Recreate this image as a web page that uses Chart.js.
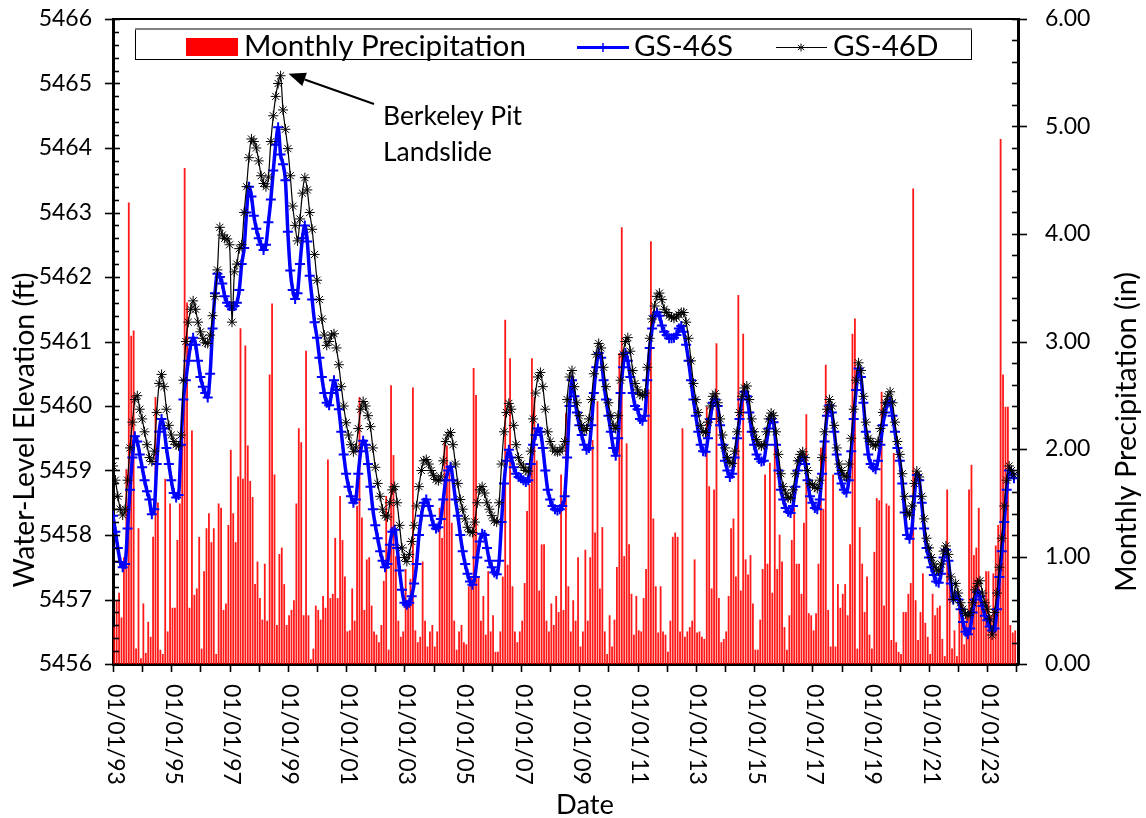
<!DOCTYPE html>
<html>
<head>
<meta charset="utf-8">
<script src="https://cdn.jsdelivr.net/npm/chart.js@4.4.1/dist/chart.umd.min.js"></script>
<style>
html,body{margin:0;padding:0;background:#fff;}
#wrap{width:1146px;height:818px;}
canvas{display:block;}
</style>
</head>
<body>
<div id="wrap"><canvas id="c" width="1146" height="818"></canvas></div>
<script>
// ---------------- DATA ----------------
const firstYear = 1993;
const lastYear = 2023;

// Monthly precipitation (in), Jan..Dec for each year
const precipitation = [
/*1993*/ 0.34,0.59,0.66,0.43,0.99,1.81,4.29,3.05,3.10,0.14,1.26,0.05,
/*1994*/ 0.56,0.10,0.39,0.25,1.18,2.48,1.50,0.13,0.09,1.72,0.30,1.49,
/*1995*/ 0.52,0.52,1.15,1.49,2.17,4.61,3.36,0.52,2.17,0.64,0.70,1.18,
/*1996*/ 0.14,0.86,1.26,1.40,1.13,1.26,0.09,1.49,1.45,0.50,0.56,1.29,
/*1997*/ 1.99,1.40,1.13,1.74,3.12,1.72,2.96,2.03,1.70,1.55,0.74,0.95,
/*1998*/ 0.61,0.41,0.93,0.40,2.69,3.35,1.76,0.36,1.02,1.08,0.74,0.36,
/*1999*/ 0.45,0.50,0.59,1.49,2.19,2.06,0.45,2.91,0.45,0.04,0.14,0.54,
/*2000*/ 0.50,0.41,0.63,0.52,1.90,0.61,0.65,1.17,0.61,1.56,1.15,0.81,
/*2001*/ 0.30,0.31,0.70,0.40,1.47,2.48,1.36,0.50,0.97,0.99,0.54,0.30,
/*2002*/ 0.27,0.20,0.36,0.77,1.56,0.13,2.59,1.94,1.00,0.40,0.25,0.30,
/*2003*/ 0.88,0.59,0.79,2.57,0.31,0.20,0.25,0.95,0.40,0.16,0.30,0.36,
/*2004*/ 0.16,0.30,1.45,1.17,2.06,2.03,1.78,1.31,0.40,0.13,0.30,0.36,
/*2005*/ 0.20,0.18,0.72,0.81,2.75,2.50,0.81,0.40,0.63,0.27,0.86,0.30,
/*2006*/ 0.45,0.11,0.11,0.30,0.81,3.20,0.92,2.84,0.72,0.30,0.20,0.30,
/*2007*/ 0.40,0.75,1.42,1.67,2.84,2.48,1.89,0.68,1.11,1.11,0.40,0.30,
/*2008*/ 0.56,0.36,0.63,0.48,1.76,0.50,2.33,0.72,0.30,0.59,0.40,0.99,
/*2009*/ 0.16,0.30,1.06,0.40,0.99,2.08,1.22,2.44,0.70,1.27,0.30,0.09,
/*2010*/ 0.45,0.16,0.41,0.90,2.89,4.06,1.00,2.05,1.11,0.65,0.27,0.63,
/*2011*/ 0.31,0.30,0.61,0.88,2.55,3.93,1.35,0.72,0.29,0.72,0.30,0.27,
/*2012*/ 0.11,0.40,1.18,1.22,1.18,0.30,2.19,0.25,0.30,0.34,0.40,0.97,
/*2013*/ 0.29,0.30,0.25,0.23,2.39,1.65,0.70,1.62,2.98,0.61,0.20,0.23,
/*2014*/ 0.30,0.63,1.26,1.35,0.81,3.43,0.68,3.07,0.97,0.83,1.01,0.56,
/*2015*/ 0.13,0.13,0.41,0.88,1.76,0.93,1.87,0.66,2.23,0.88,1.20,0.95,
/*2016*/ 0.34,0.13,0.45,1.15,1.45,0.93,0.93,0.65,1.31,2.32,0.47,0.45,
/*2017*/ 0.31,0.47,0.93,2.01,1.44,2.78,0.50,0.16,1.76,0.16,0.74,0.52,
/*2018*/ 0.65,0.74,0.45,1.11,3.07,3.21,0.14,1.27,0.93,0.48,0.81,0.27,
/*2019*/ 0.14,1.04,1.54,1.52,2.53,0.54,1.49,1.47,0.22,1.96,0.20,0.11,
/*2020*/ 0.09,0.48,0.48,0.65,0.75,4.42,0.59,0.22,0.48,0.84,0.38,0.25,
/*2021*/ 0.09,0.65,0.45,0.52,0.54,0.23,0.07,1.62,0.84,0.14,0.31,0.07,
/*2022*/ 0.54,0.56,0.18,0.45,1.62,1.85,1.01,1.08,1.45,0.59,0.47,0.86,
/*2023*/ 0.86,0.45,0.84,1.10,1.29,4.88,2.69,2.39,2.39,0.36,0.29,0.31
];

// GS-46S water-level elevation (ft), monthly
const gs46S = [
/*1993*/ 5458.30,5458.05,5457.80,5457.58,5457.50,5457.55,5458.10,5458.70,5459.20,5459.53,5459.45,5459.25,
/*1994*/ 5459.05,5458.85,5458.68,5458.55,5458.32,5458.40,5459.10,5459.60,5459.80,5459.65,5459.35,5459.10,
/*1995*/ 5458.85,5458.65,5458.58,5458.62,5459.40,5460.10,5460.40,5460.70,5460.95,5461.06,5460.95,5460.70,
/*1996*/ 5460.45,5460.30,5460.20,5460.13,5460.50,5461.20,5461.75,5462.05,5462.00,5461.90,5461.70,5461.60,
/*1997*/ 5461.55,5461.50,5461.55,5461.60,5461.80,5462.20,5462.45,5463.00,5463.40,5463.25,5462.95,5462.75,
/*1998*/ 5462.60,5462.50,5462.42,5462.50,5462.85,5463.20,5463.65,5464.05,5464.32,5463.90,5463.75,5463.50,
/*1999*/ 5462.70,5462.10,5461.80,5461.66,5461.75,5462.20,5462.60,5462.80,5462.55,5462.02,5461.65,5461.30,
/*2000*/ 5461.06,5460.75,5460.45,5460.20,5460.05,5460.01,5460.20,5460.40,5460.25,5459.95,5459.60,5459.25,
/*2001*/ 5458.95,5458.75,5458.60,5458.50,5458.55,5458.95,5459.30,5459.46,5459.40,5459.10,5458.75,5458.40,
/*2002*/ 5458.15,5457.95,5457.75,5457.60,5457.50,5457.55,5457.85,5458.05,5458.08,5457.80,5457.45,5457.15,
/*2003*/ 5456.95,5456.92,5456.95,5457.05,5457.25,5457.55,5458.00,5458.30,5458.50,5458.55,5458.45,5458.30,
/*2004*/ 5458.15,5458.10,5458.12,5458.25,5458.55,5458.85,5459.00,5459.06,5458.85,5458.55,5458.30,5458.00,
/*2005*/ 5457.75,5457.55,5457.40,5457.28,5457.23,5457.35,5457.65,5457.90,5458.02,5458.00,5457.80,5457.60,
/*2006*/ 5457.50,5457.42,5457.39,5457.60,5458.20,5458.80,5459.15,5459.32,5459.20,5459.05,5458.95,5458.90,
/*2007*/ 5458.88,5458.85,5458.82,5458.85,5459.10,5459.40,5459.55,5459.65,5459.60,5459.35,5459.00,5458.70,
/*2008*/ 5458.55,5458.45,5458.40,5458.38,5458.40,5458.45,5458.60,5459.20,5460.00,5460.40,5460.15,5459.90,
/*2009*/ 5459.70,5459.55,5459.40,5459.32,5459.35,5459.70,5460.20,5460.60,5460.82,5460.75,5460.40,5460.10,
/*2010*/ 5459.85,5459.60,5459.35,5459.23,5459.50,5460.20,5460.60,5460.82,5460.70,5460.45,5460.20,5460.00,
/*2011*/ 5459.95,5459.80,5459.77,5459.85,5460.40,5460.90,5461.20,5461.40,5461.45,5461.40,5461.25,5461.15,
/*2012*/ 5461.10,5461.05,5461.05,5461.06,5461.10,5461.20,5461.24,5461.15,5460.95,5460.70,5460.40,5460.10,
/*2013*/ 5459.85,5459.60,5459.40,5459.30,5459.29,5459.50,5459.80,5460.05,5460.10,5460.00,5459.70,5459.40,
/*2014*/ 5459.15,5459.00,5458.90,5458.95,5459.20,5459.50,5459.80,5460.10,5460.22,5460.15,5459.90,5459.60,
/*2015*/ 5459.40,5459.25,5459.18,5459.14,5459.15,5459.40,5459.65,5459.80,5459.75,5459.40,5459.00,5458.70,
/*2016*/ 5458.55,5458.42,5458.36,5458.34,5458.45,5458.75,5459.00,5459.15,5459.21,5459.10,5458.85,5458.60,
/*2017*/ 5458.50,5458.42,5458.40,5458.55,5458.95,5459.45,5459.85,5460.01,5459.90,5459.60,5459.25,5458.95,
/*2018*/ 5458.80,5458.70,5458.66,5458.85,5459.30,5459.80,5460.25,5460.58,5460.45,5460.05,5459.60,5459.25,
/*2019*/ 5459.10,5459.05,5459.02,5459.15,5459.40,5459.70,5459.90,5460.05,5460.07,5459.85,5459.60,5459.35,
/*2020*/ 5459.15,5458.80,5458.35,5458.00,5457.94,5458.10,5458.60,5458.93,5458.85,5458.50,5458.10,5457.80,
/*2021*/ 5457.65,5457.50,5457.38,5457.28,5457.26,5457.40,5457.65,5457.77,5457.60,5457.25,5457.00,5457.05,
/*2022*/ 5457.00,5456.85,5456.65,5456.50,5456.46,5456.55,5456.80,5457.00,5457.12,5457.05,5456.90,5456.75,
/*2023*/ 5456.68,5456.58,5456.52,5456.55,5456.85,5457.35,5457.75,5458.20,5458.70,5459.00,5458.95,5458.88
];

// GS-46D water-level elevation (ft), monthly
const gs46D = [
/*1993*/ 5459.07,5458.85,5458.60,5458.40,5458.31,5458.40,5458.85,5459.35,5459.75,5460.10,5460.16,5459.95,
/*1994*/ 5459.80,5459.60,5459.40,5459.20,5459.14,5459.30,5459.90,5460.35,5460.49,5460.30,5459.95,5459.70,
/*1995*/ 5459.55,5459.45,5459.40,5459.38,5459.55,5460.40,5461.00,5461.30,5461.50,5461.63,5461.50,5461.30,
/*1996*/ 5461.15,5461.05,5460.98,5460.97,5461.10,5461.40,5461.70,5462.11,5462.77,5462.65,5462.60,5462.59,
/*1997*/ 5462.50,5461.30,5462.08,5462.20,5462.44,5462.50,5463.00,5463.40,5463.85,5464.14,5464.10,5464.00,
/*1998*/ 5463.80,5463.57,5463.45,5463.40,5463.55,5464.10,5464.50,5464.80,5465.00,5465.12,5464.59,5464.29,
/*1999*/ 5463.99,5463.57,5463.10,5462.80,5462.56,5462.90,5463.30,5463.54,5463.35,5463.00,5462.74,5462.35,
/*2000*/ 5461.95,5461.65,5461.35,5461.10,5460.94,5461.00,5461.10,5461.12,5460.90,5460.64,5460.30,5460.00,
/*2001*/ 5459.74,5459.55,5459.40,5459.29,5459.35,5459.65,5459.95,5460.07,5460.00,5459.85,5459.68,5459.35,
/*2002*/ 5459.05,5458.80,5458.60,5458.40,5458.30,5458.28,5458.50,5458.70,5458.75,5458.50,5458.15,5457.80,
/*2003*/ 5457.65,5457.59,5457.70,5457.90,5458.15,5458.45,5458.75,5459.00,5459.15,5459.17,5459.10,5459.00,
/*2004*/ 5458.92,5458.86,5458.84,5458.90,5459.15,5459.45,5459.55,5459.59,5459.40,5459.10,5458.80,5458.55,
/*2005*/ 5458.40,5458.25,5458.12,5458.05,5458.04,5458.20,5458.50,5458.70,5458.75,5458.65,5458.50,5458.40,
/*2006*/ 5458.30,5458.22,5458.20,5458.50,5459.10,5459.60,5459.90,5460.04,5459.95,5459.70,5459.40,5459.20,
/*2007*/ 5459.10,5459.05,5459.00,5458.99,5459.30,5459.80,5460.20,5460.45,5460.52,5460.30,5459.95,5459.60,
/*2008*/ 5459.45,5459.35,5459.30,5459.29,5459.30,5459.35,5459.45,5460.10,5460.45,5460.55,5460.30,5460.05,
/*2009*/ 5459.85,5459.70,5459.62,5459.65,5459.80,5460.10,5460.50,5460.80,5460.97,5460.90,5460.60,5460.30,
/*2010*/ 5460.05,5459.85,5459.70,5459.65,5459.85,5460.40,5460.80,5461.00,5461.06,5460.85,5460.55,5460.35,
/*2011*/ 5460.25,5460.18,5460.16,5460.20,5460.60,5461.05,5461.35,5461.55,5461.70,5461.75,5461.65,5461.50,
/*2012*/ 5461.45,5461.40,5461.38,5461.36,5461.38,5461.42,5461.45,5461.45,5461.30,5461.05,5460.70,5460.35,
/*2013*/ 5460.10,5459.90,5459.70,5459.60,5459.59,5459.75,5460.00,5460.15,5460.19,5460.05,5459.80,5459.55,
/*2014*/ 5459.35,5459.20,5459.12,5459.11,5459.30,5459.60,5459.90,5460.15,5460.28,5460.31,5460.10,5459.80,
/*2015*/ 5459.60,5459.48,5459.40,5459.38,5459.40,5459.60,5459.80,5459.89,5459.85,5459.60,5459.25,5458.95,
/*2016*/ 5458.75,5458.65,5458.58,5458.57,5458.70,5458.95,5459.15,5459.25,5459.29,5459.20,5459.00,5458.80,
/*2017*/ 5458.78,5458.74,5458.72,5458.85,5459.20,5459.60,5459.95,5460.10,5460.00,5459.70,5459.35,5459.10,
/*2018*/ 5459.00,5458.92,5458.90,5459.10,5459.50,5459.95,5460.40,5460.67,5460.55,5460.15,5459.75,5459.50,
/*2019*/ 5459.45,5459.40,5459.38,5459.45,5459.65,5459.90,5460.05,5460.15,5460.22,5460.05,5459.75,5459.45,
/*2020*/ 5459.25,5458.95,5458.60,5458.35,5458.31,5458.45,5458.80,5458.99,5458.90,5458.60,5458.25,5457.95,
/*2021*/ 5457.80,5457.65,5457.55,5457.47,5457.44,5457.55,5457.75,5457.83,5457.70,5457.35,5457.00,5457.25,
/*2022*/ 5457.10,5456.95,5456.85,5456.78,5456.75,5456.80,5456.95,5457.15,5457.25,5457.29,5457.10,5456.95,
/*2023*/ 5456.85,5456.70,5456.45,5456.80,5457.10,5457.50,5457.95,5458.45,5458.85,5459.07,5459.00,5458.93
];

// Axis tick labels (every two years) and yearly minor ticks
const dateTickYears  = [1993,1995,1997,1999,2001,2003,2005,2007,2009,2011,2013,2015,2017,2019,2021,2023];
const dateTickLabels = ['01/01/93','01/01/95','01/01/97','01/01/99','01/01/01','01/01/03','01/01/05','01/01/07',
                        '01/01/09','01/01/11','01/01/13','01/01/15','01/01/17','01/01/19','01/01/21','01/01/23'];
const minorTickYears = [];
for (let y = firstYear; y <= 2024; y++) minorTickYears.push(y);

const annotationText = ['Berkeley Pit', 'Landslide'];

// ---------------- BUILD ----------------
const monthLabels = [];
for (let y = firstYear; y <= lastYear; y++)
  for (let m = 1; m <= 12; m++) monthLabels.push(y + '-' + String(m).padStart(2, '0'));

function monthToYear(label, mid) {
  const p = label.split('-').map(Number);
  return p[0] + (p[1] - 1 + (mid ? 0.5 : 0)) / 12;
}

const precipPts = monthLabels.map((l, i) => ({x: monthToYear(l, true), y: precipitation[i]}));
const sPts = monthLabels.map((l, i) => ({x: monthToYear(l, false), y: gs46S[i]}));
const dPts = monthLabels.map((l, i) => ({x: monthToYear(l, false), y: gs46D[i]}));

const FAM = 'Lato, "Open Sans", "DejaVu Sans", sans-serif';

function fitFont(ctx, text, width, weight) {
  ctx.font = (weight || '') + ' 100px ' + FAM;
  const w = ctx.measureText(text).width;
  return (weight || '') + ' ' + (100 * width / w).toFixed(2) + 'px ' + FAM;
}

const decor = {
  id: 'decor',
  afterDraw(chart) {
    const c = chart.ctx;
    const a = chart.chartArea;
    const xs = chart.scales.x, ys = chart.scales.y, ps = chart.scales.yP;
    c.save();
    c.strokeStyle = '#000';
    c.fillStyle = '#000';

    // top frame line
    c.lineWidth = 2;
    c.beginPath(); c.moveTo(a.left, a.top); c.lineTo(a.right, a.top); c.stroke();

    // left axis ticks
    c.lineWidth = 1.6;
    for (let i = 0; i <= 50; i++) {
      const py = Math.round(ys.getPixelForValue(ys.min + i * 0.2)) + 0.5;
      const major = i % 5 === 0;
      c.beginPath();
      c.moveTo(major ? a.left - 8 : a.left, py);
      c.lineTo(a.left + (major ? 7 : 6), py);
      c.stroke();
    }
    // right axis ticks
    for (let i = 0; i <= 30; i++) {
      const py = Math.round(ps.getPixelForValue(i * 0.2)) + 0.5;
      const major = i % 5 === 0;
      c.beginPath();
      c.moveTo(a.right - 6, py);
      c.lineTo(major ? a.right + 9 : a.right, py);
      c.stroke();
    }
    // bottom ticks (yearly)
    minorTickYears.forEach(yr => {
      const px = Math.round(xs.getPixelForValue(yr)) + 0.5;
      c.beginPath(); c.moveTo(px, a.bottom); c.lineTo(px, a.bottom + 8); c.stroke();
    });

    // x tick labels rotated (reading downward)
    c.font = fitFont(c, '01/01/93', 101);
    c.textAlign = 'left';
    c.textBaseline = 'middle';
    dateTickYears.forEach((yr, i) => {
      const px = xs.getPixelForValue(yr);
      c.save();
      c.translate(px + 2, a.bottom + 20);
      c.rotate(Math.PI / 2);
      c.fillText(dateTickLabels[i], 0, 0);
      c.restore();
    });

    // axis titles
    c.textAlign = 'center';
    c.textBaseline = 'middle';
    c.font = fitFont(c, 'Water-Level Elevation (ft)', 315);
    c.save(); c.translate(25, 430); c.rotate(-Math.PI / 2);
    c.fillText('Water-Level Elevation (ft)', 0, 0); c.restore();
    c.font = fitFont(c, 'Monthly Precipitation (in)', 320);
    c.save(); c.translate(1127, 432); c.rotate(-Math.PI / 2);
    c.fillText('Monthly Precipitation (in)', 0, 0); c.restore();
    c.textBaseline = 'alphabetic';
    c.font = fitFont(c, 'Date', 58);
    c.fillText('Date', 585, 814);

    // legend
    const ds = chart.data.datasets;
    const bars = ds.find(d => d.type === 'bar');
    const sD = ds.find(d => d.label === 'GS-46S');
    const dD = ds.find(d => d.label === 'GS-46D');
    c.fillStyle = '#fff';
    c.fillRect(135, 28, 837, 31);
    c.lineWidth = 1;
    c.strokeStyle = '#000';
    c.strokeRect(135.5, 28.5, 836, 31);
    c.strokeStyle = '#808080';
    c.lineWidth = 2;
    c.beginPath(); c.moveTo(135, 29); c.lineTo(972, 29); c.stroke();

    c.fillStyle = '#ff0000';
    c.fillRect(186, 38, 52, 18);
    c.fillStyle = '#000';
    c.textAlign = 'left';
    c.textBaseline = 'alphabetic';
    c.font = fitFont(c, bars.label, 282);
    c.fillText(bars.label, 244, 56);

    c.strokeStyle = sD.borderColor;
    c.lineWidth = 3;
    c.beginPath(); c.moveTo(577, 47.5); c.lineTo(629, 47.5); c.stroke();
    c.lineWidth = 1.5;
    c.beginPath(); c.moveTo(603, 43); c.lineTo(603, 52); c.stroke();
    c.fillText(sD.label, 634, 56);

    c.strokeStyle = dD.borderColor;
    c.lineWidth = 1;
    c.beginPath(); c.moveTo(776, 47.5); c.lineTo(827, 47.5); c.stroke();
    const r = 4;
    c.beginPath();
    c.moveTo(801, 47.5 - r); c.lineTo(801, 47.5 + r);
    c.moveTo(801 - r * 0.8, 47.5 - r * 0.6); c.lineTo(801 + r * 0.8, 47.5 + r * 0.6);
    c.moveTo(801 - r * 0.8, 47.5 + r * 0.6); c.lineTo(801 + r * 0.8, 47.5 - r * 0.6);
    c.stroke();
    c.fillText(dD.label, 833, 56);

    // annotation arrow pointing at GS-46D maximum
    let iMax = 0;
    gs46D.forEach((v, i) => { if (v > gs46D[iMax]) iMax = i; });
    const tipX = xs.getPixelForValue(dPts[iMax].x) + 8;
    const tipY = ys.getPixelForValue(dPts[iMax].y) - 2;
    const tailX = 374, tailY = 104;
    const ang = Math.atan2(tailY - tipY, tailX - tipX);
    const hl = 17, hw = 7;
    const bx = tipX + Math.cos(ang) * hl, by = tipY + Math.sin(ang) * hl;
    c.strokeStyle = '#000';
    c.lineWidth = 2;
    c.beginPath(); c.moveTo(tailX, tailY); c.lineTo(bx, by); c.stroke();
    c.fillStyle = '#000';
    c.beginPath();
    c.moveTo(tipX, tipY);
    c.lineTo(bx + Math.sin(ang) * hw, by - Math.cos(ang) * hw);
    c.lineTo(bx - Math.sin(ang) * hw, by + Math.cos(ang) * hw);
    c.closePath(); c.fill();

    c.font = fitFont(c, annotationText[0], 139);
    c.textAlign = 'left';
    c.fillText(annotationText[0], 383, 125);
    c.fillText(annotationText[1], 383, 161);

    c.restore();
  }
};

function noVPad(s) { s.paddingTop = 0; s.paddingBottom = 0; }

const ctx = document.getElementById('c').getContext('2d');
new Chart(ctx, {
  type: 'bar',
  data: {
    datasets: [
      {
        type: 'line', label: 'GS-46D', data: dPts, yAxisID: 'y', xAxisID: 'x',
        borderColor: '#000000', borderWidth: 1.2, fill: false,
        pointStyle: 'star', pointRadius: 5, pointBorderWidth: 1,
        pointBorderColor: '#000000', pointBackgroundColor: '#000000',
        cubicInterpolationMode: 'monotone', order: 0
      },
      {
        type: 'line', label: 'GS-46S', data: sPts, yAxisID: 'y', xAxisID: 'x',
        borderColor: '#0000ff', borderWidth: 3.5, fill: false,
        pointStyle: 'cross', pointRadius: 5, pointBorderWidth: 2,
        pointBorderColor: '#0000ff', pointBackgroundColor: '#0000ff',
        cubicInterpolationMode: 'monotone', order: 1
      },
      {
        type: 'bar', label: 'Monthly Precipitation', data: precipPts, yAxisID: 'yP', xAxisID: 'x',
        backgroundColor: 'rgba(255,0,0,0.9)', borderWidth: 0, barThickness: 1.15, order: 2
      }
    ]
  },
  options: {
    responsive: false,
    animation: false,
    devicePixelRatio: 1,
    layout: {padding: {top: 19, left: 0, right: 0, bottom: 0}},
    plugins: {legend: {display: false}, tooltip: {enabled: false}, title: {display: false}},
    scales: {
      x: {
        type: 'linear', position: 'bottom', min: 1993, max: 2024.055, offset: false,
        grid: {display: false, drawTicks: false},
        border: {display: true, color: '#000', width: 3},
        ticks: {display: false},
        afterFit(s) { s.height = 154; s.paddingLeft = 0; s.paddingRight = 0; }
      },
      y: {
        type: 'linear', position: 'left', min: 5456, max: 5466,
        grid: {display: false, drawTicks: false},
        border: {display: true, color: '#000', width: 3},
        ticks: {stepSize: 1, padding: 21, color: '#000', autoSkip: false,
                font: {family: FAM, size: 23}, callback: v => String(v)},
        afterFit(s) { s.width = 113; noVPad(s); }
      },
      yP: {
        type: 'linear', position: 'right', min: 0, max: 6,
        grid: {display: false, drawTicks: false},
        border: {display: true, color: '#000', width: 3},
        ticks: {stepSize: 1, padding: 27, color: '#000', autoSkip: false,
                font: {family: FAM, size: 23}, callback: v => Number(v).toFixed(2)},
        afterFit(s) { s.width = 128; noVPad(s); }
      }
    }
  },
  plugins: [decor]
});
</script>
</body>
</html>
